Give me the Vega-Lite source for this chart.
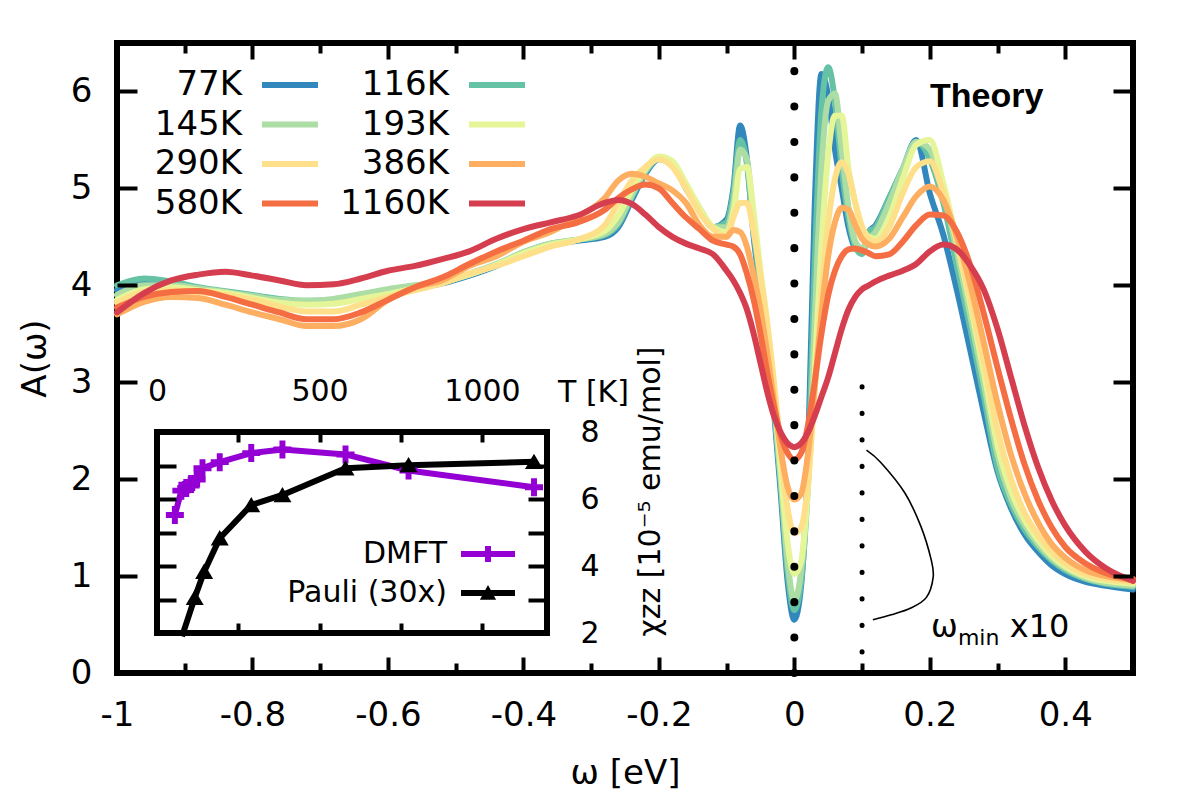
{
  "$schema": "https://vega.github.io/schema/vega-lite/v6.json",
  "width": 1016,
  "height": 630,
  "autosize": {"type": "none"},
  "padding": {"left": 117, "top": 43, "right": 67, "bottom": 127},
  "background": "white",
  "config": {
    "view": {"stroke": "black", "strokeWidth": 6},
    "axis": {"domain": false, "grid": false, "ticks": true, "tickColor": "black", "tickOpacity": 1, "tickWidth": 4, "gridColor": "black", "gridOpacity": 1, "gridWidth": 4, "labelFont": "DejaVu Sans", "labelFontSize": 34, "labelColor": "black", "titleFont": "DejaVu Sans", "titleFontSize": 34, "titleFontWeight": "normal", "titleColor": "black", "labelFlush": false, "labelOverlap": false},
    "legend": {"labelFont": "DejaVu Sans", "labelColor": "black", "padding": 0},
    "text": {"font": "DejaVu Sans", "color": "black"}
  },
  "datasets": {
    "inset": [
      {"T": 55, "chi": 5.52, "series": "DMFT"},
      {"T": 75, "chi": 6.25, "series": "DMFT"},
      {"T": 90, "chi": 6.33, "series": "DMFT"},
      {"T": 105, "chi": 6.45, "series": "DMFT"},
      {"T": 122, "chi": 6.58, "series": "DMFT"},
      {"T": 140, "chi": 6.92, "series": "DMFT"},
      {"T": 193, "chi": 7.1, "series": "DMFT"},
      {"T": 290, "chi": 7.37, "series": "DMFT"},
      {"T": 386, "chi": 7.48, "series": "DMFT"},
      {"T": 580, "chi": 7.33, "series": "DMFT"},
      {"T": 774, "chi": 6.85, "series": "DMFT"},
      {"T": 1160, "chi": 6.35, "series": "DMFT"},
      {"T": 77, "chi": 1.9, "series": "Pauli (30x)"},
      {"T": 116, "chi": 3.05, "series": "Pauli (30x)"},
      {"T": 145, "chi": 3.83, "series": "Pauli (30x)"},
      {"T": 193, "chi": 4.83, "series": "Pauli (30x)"},
      {"T": 290, "chi": 5.82, "series": "Pauli (30x)"},
      {"T": 386, "chi": 6.12, "series": "Pauli (30x)"},
      {"T": 580, "chi": 6.92, "series": "Pauli (30x)"},
      {"T": 774, "chi": 7.01, "series": "Pauli (30x)"},
      {"T": 1160, "chi": 7.11, "series": "Pauli (30x)"}
    ]
  },
  "resolve": {"scale": {"x": "independent", "y": "independent", "color": "independent", "shape": "independent"}},
  "layer": [
    {
      "data": {"values": [
        {"w": -1, "77K": 3.95, "116K": 4.0, "145K": 3.9, "193K": 3.85, "290K": 3.82, "386K": 3.7, "580K": 3.77, "1160K": 3.72},
        {"w": -0.96, "77K": 4.02, "116K": 4.07, "145K": 4.0, "193K": 3.96, "290K": 3.93, "386K": 3.83, "580K": 3.88, "1160K": 3.92},
        {"w": -0.92, "77K": 4.0, "116K": 4.04, "145K": 4.0, "193K": 3.98, "290K": 3.95, "386K": 3.88, "580K": 3.93, "1160K": 4.05},
        {"w": -0.88, "77K": 3.96, "116K": 3.98, "145K": 3.97, "193K": 3.95, "290K": 3.93, "386K": 3.87, "580K": 3.94, "1160K": 4.11},
        {"w": -0.84, "77K": 3.93, "116K": 3.94, "145K": 3.93, "193K": 3.92, "290K": 3.9, "386K": 3.8, "580K": 3.88, "1160K": 4.14},
        {"w": -0.8, "77K": 3.89, "116K": 3.9, "145K": 3.89, "193K": 3.87, "290K": 3.85, "386K": 3.72, "580K": 3.8, "1160K": 4.1},
        {"w": -0.76, "77K": 3.85, "116K": 3.86, "145K": 3.85, "193K": 3.82, "290K": 3.78, "386K": 3.65, "580K": 3.72, "1160K": 4.05},
        {"w": -0.72, "77K": 3.83, "116K": 3.84, "145K": 3.84, "193K": 3.8, "290K": 3.73, "386K": 3.58, "580K": 3.65, "1160K": 4.0},
        {"w": -0.68, "77K": 3.84, "116K": 3.85, "145K": 3.86, "193K": 3.81, "290K": 3.73, "386K": 3.58, "580K": 3.65, "1160K": 4.01},
        {"w": -0.64, "77K": 3.88, "116K": 3.89, "145K": 3.91, "193K": 3.86, "290K": 3.8, "386K": 3.65, "580K": 3.72, "1160K": 4.07},
        {"w": -0.6, "77K": 3.93, "116K": 3.94, "145K": 3.96, "193K": 3.91, "290K": 3.88, "386K": 3.85, "580K": 3.85, "1160K": 4.15},
        {"w": -0.56, "77K": 3.97, "116K": 3.98, "145K": 4.0, "193K": 3.97, "290K": 3.95, "386K": 3.98, "580K": 3.98, "1160K": 4.2},
        {"w": -0.52, "77K": 4.02, "116K": 4.03, "145K": 4.04, "193K": 4.03, "290K": 4.02, "386K": 4.05, "580K": 4.08, "1160K": 4.27},
        {"w": -0.48, "77K": 4.1, "116K": 4.11, "145K": 4.12, "193K": 4.11, "290K": 4.12, "386K": 4.2, "580K": 4.22, "1160K": 4.35},
        {"w": -0.44, "77K": 4.2, "116K": 4.21, "145K": 4.22, "193K": 4.21, "290K": 4.2, "386K": 4.3, "580K": 4.35, "1160K": 4.48},
        {"w": -0.4, "77K": 4.33, "116K": 4.34, "145K": 4.34, "193K": 4.33, "290K": 4.3, "386K": 4.45, "580K": 4.46, "1160K": 4.58},
        {"w": -0.36, "77K": 4.42, "116K": 4.43, "145K": 4.43, "193K": 4.42, "290K": 4.4, "386K": 4.55, "580K": 4.58, "1160K": 4.65},
        {"w": -0.32, "77K": 4.46, "116K": 4.47, "145K": 4.47, "193K": 4.47, "290K": 4.47, "386K": 4.7, "580K": 4.65, "1160K": 4.72},
        {"w": -0.28, "77K": 4.5, "116K": 4.52, "145K": 4.53, "193K": 4.56, "290K": 4.62, "386K": 4.9, "580K": 4.78, "1160K": 4.85},
        {"w": -0.26, "77K": 4.6, "116K": 4.63, "145K": 4.65, "193K": 4.72, "290K": 4.85, "386K": 5.08, "580K": 4.9, "1160K": 4.88},
        {"w": -0.24, "77K": 4.88, "116K": 4.91, "145K": 4.93, "193K": 4.98, "290K": 5.08, "386K": 5.15, "580K": 4.99, "1160K": 4.84},
        {"w": -0.22, "77K": 5.15, "116K": 5.17, "145K": 5.18, "193K": 5.2, "290K": 5.22, "386K": 5.12, "580K": 5.04, "1160K": 4.73},
        {"w": -0.2, "77K": 5.3, "116K": 5.31, "145K": 5.32, "193K": 5.33, "290K": 5.3, "386K": 5.05, "580K": 5.0, "1160K": 4.6},
        {"w": -0.18, "77K": 5.25, "116K": 5.26, "145K": 5.27, "193K": 5.28, "290K": 5.22, "386K": 4.98, "580K": 4.85, "1160K": 4.5},
        {"w": -0.16, "77K": 5.0, "116K": 5.02, "145K": 5.03, "193K": 5.05, "290K": 5.0, "386K": 4.85, "580K": 4.7, "1160K": 4.43},
        {"w": -0.14, "77K": 4.78, "116K": 4.79, "145K": 4.8, "193K": 4.8, "290K": 4.75, "386K": 4.62, "580K": 4.58, "1160K": 4.38},
        {"w": -0.12, "77K": 4.6, "116K": 4.6, "145K": 4.6, "193K": 4.6, "290K": 4.58, "386K": 4.5, "580K": 4.46, "1160K": 4.32},
        {"w": -0.1, "77K": 4.68, "116K": 4.65, "145K": 4.6, "193K": 4.55, "290K": 4.5, "386K": 4.5, "580K": 4.42, "1160K": 4.15},
        {"w": -0.09, "77K": 5.0, "116K": 4.95, "145K": 4.85, "193K": 4.75, "290K": 4.7, "386K": 4.57, "580K": 4.4, "1160K": 4.05},
        {"w": -0.08, "77K": 5.65, "116K": 5.5, "145K": 5.4, "193K": 5.2, "290K": 4.85, "386K": 4.55, "580K": 4.32, "1160K": 3.92},
        {"w": -0.07, "77K": 5.3, "116K": 5.25, "145K": 5.3, "193K": 5.22, "290K": 4.85, "386K": 4.4, "580K": 4.12, "1160K": 3.75},
        {"w": -0.06, "77K": 4.5, "116K": 4.55, "145K": 4.65, "193K": 4.75, "290K": 4.55, "386K": 4.1, "580K": 3.85, "1160K": 3.5},
        {"w": -0.05, "77K": 3.95, "116K": 4.0, "145K": 4.05, "193K": 4.15, "290K": 4.1, "386K": 3.75, "580K": 3.5, "1160K": 3.2},
        {"w": -0.04, "77K": 3.4, "116K": 3.45, "145K": 3.5, "193K": 3.6, "290K": 3.6, "386K": 3.3, "580K": 3.1, "1160K": 2.9},
        {"w": -0.03, "77K": 2.7, "116K": 2.75, "145K": 2.8, "193K": 2.9, "290K": 3.0, "386K": 2.8, "580K": 2.75, "1160K": 2.65},
        {"w": -0.02, "77K": 1.85, "116K": 1.95, "145K": 2.0, "193K": 2.1, "290K": 2.3, "386K": 2.3, "580K": 2.45, "1160K": 2.48},
        {"w": -0.01, "77K": 0.95, "116K": 1.05, "145K": 1.15, "193K": 1.35, "290K": 1.7, "386K": 1.92, "580K": 2.27, "1160K": 2.37},
        {"w": 0, "77K": 0.55, "116K": 0.65, "145K": 0.75, "193K": 1.02, "290K": 1.44, "386K": 1.79, "580K": 2.2, "1160K": 2.33},
        {"w": 0.01, "77K": 0.9, "116K": 0.95, "145K": 1.05, "193K": 1.15, "290K": 1.5, "386K": 1.85, "580K": 2.27, "1160K": 2.37},
        {"w": 0.02, "77K": 2.2, "116K": 2.0, "145K": 1.9, "193K": 1.9, "290K": 1.95, "386K": 2.25, "580K": 2.55, "1160K": 2.48},
        {"w": 0.03, "77K": 4.8, "116K": 4.2, "145K": 3.6, "193K": 3.1, "290K": 2.9, "386K": 2.95, "580K": 3.0, "1160K": 2.65},
        {"w": 0.04, "77K": 6.18, "116K": 5.8, "145K": 5.2, "193K": 4.4, "290K": 3.9, "386K": 3.7, "580K": 3.5, "1160K": 2.85},
        {"w": 0.05, "77K": 5.95, "116K": 6.25, "145K": 5.9, "193K": 5.35, "290K": 4.65, "386K": 4.3, "580K": 3.9, "1160K": 3.05},
        {"w": 0.06, "77K": 5.4, "116K": 5.9, "145K": 5.98, "193K": 5.75, "290K": 5.1, "386K": 4.65, "580K": 4.15, "1160K": 3.3},
        {"w": 0.07, "77K": 5.0, "116K": 5.2, "145K": 5.4, "193K": 5.75, "290K": 5.27, "386K": 4.8, "580K": 4.3, "1160K": 3.55},
        {"w": 0.08, "77K": 4.6, "116K": 4.7, "145K": 4.8, "193K": 5.2, "290K": 5.15, "386K": 4.78, "580K": 4.37, "1160K": 3.75},
        {"w": 0.09, "77K": 4.38, "116K": 4.4, "145K": 4.45, "193K": 4.85, "290K": 4.85, "386K": 4.62, "580K": 4.38, "1160K": 3.88},
        {"w": 0.1, "77K": 4.35, "116K": 4.32, "145K": 4.38, "193K": 4.6, "290K": 4.6, "386K": 4.48, "580K": 4.36, "1160K": 3.96},
        {"w": 0.11, "77K": 4.55, "116K": 4.55, "145K": 4.48, "193K": 4.5, "290K": 4.48, "386K": 4.42, "580K": 4.33, "1160K": 4.0},
        {"w": 0.12, "77K": 4.62, "116K": 4.6, "145K": 4.55, "193K": 4.48, "290K": 4.45, "386K": 4.4, "580K": 4.3, "1160K": 4.04},
        {"w": 0.14, "77K": 4.9, "116K": 4.9, "145K": 4.85, "193K": 4.7, "290K": 4.6, "386K": 4.48, "580K": 4.32, "1160K": 4.1},
        {"w": 0.16, "77K": 5.2, "116K": 5.2, "145K": 5.2, "193K": 5.1, "290K": 4.95, "386K": 4.7, "580K": 4.45, "1160K": 4.15},
        {"w": 0.18, "77K": 5.5, "116K": 5.48, "145K": 5.48, "193K": 5.45, "290K": 5.22, "386K": 4.92, "580K": 4.62, "1160K": 4.22},
        {"w": 0.2, "77K": 4.95, "116K": 5.3, "145K": 5.4, "193K": 5.5, "290K": 5.28, "386K": 5.02, "580K": 4.73, "1160K": 4.35},
        {"w": 0.22, "77K": 4.52, "116K": 4.85, "145K": 4.95, "193K": 5.05, "290K": 4.95, "386K": 4.88, "580K": 4.72, "1160K": 4.42},
        {"w": 0.24, "77K": 3.95, "116K": 4.2, "145K": 4.35, "193K": 4.45, "290K": 4.45, "386K": 4.5, "580K": 4.55, "1160K": 4.37},
        {"w": 0.26, "77K": 3.32, "116K": 3.55, "145K": 3.68, "193K": 3.8, "290K": 3.85, "386K": 4.0, "580K": 4.2, "1160K": 4.2},
        {"w": 0.28, "77K": 2.68, "116K": 2.85, "145K": 2.98, "193K": 3.1, "290K": 3.2, "386K": 3.4, "580K": 3.7, "1160K": 3.95},
        {"w": 0.3, "77K": 2.08, "116K": 2.12, "145K": 2.25, "193K": 2.35, "290K": 2.5, "386K": 2.78, "580K": 3.15, "1160K": 3.55},
        {"w": 0.32, "77K": 1.7, "116K": 1.74, "145K": 1.8, "193K": 1.88, "290K": 2.0, "386K": 2.25, "580K": 2.62, "1160K": 3.05},
        {"w": 0.34, "77K": 1.43, "116K": 1.48, "145K": 1.53, "193K": 1.58, "290K": 1.65, "386K": 1.85, "580K": 2.15, "1160K": 2.55},
        {"w": 0.36, "77K": 1.25, "116K": 1.3, "145K": 1.33, "193K": 1.37, "290K": 1.42, "386K": 1.55, "580K": 1.78, "1160K": 2.12},
        {"w": 0.38, "77K": 1.11, "116K": 1.16, "145K": 1.18, "193K": 1.21, "290K": 1.25, "386K": 1.33, "580K": 1.5, "1160K": 1.78},
        {"w": 0.4, "77K": 1.02, "116K": 1.06, "145K": 1.08, "193K": 1.1, "290K": 1.13, "386K": 1.19, "580K": 1.3, "1160K": 1.52},
        {"w": 0.43, "77K": 0.94, "116K": 0.97, "145K": 0.98, "193K": 1.0, "290K": 1.02, "386K": 1.06, "580K": 1.13, "1160K": 1.25},
        {"w": 0.46, "77K": 0.9, "116K": 0.92, "145K": 0.93, "193K": 0.95, "290K": 0.97, "386K": 1.0, "580K": 1.03, "1160K": 1.08},
        {"w": 0.5, "77K": 0.86, "116K": 0.89, "145K": 0.9, "193K": 0.92, "290K": 0.94, "386K": 0.96, "580K": 0.97, "1160K": 0.95}
      ]},
      "transform": [{"fold": ["77K", "116K", "145K", "193K", "290K", "386K", "580K", "1160K"], "as": ["T", "A"]}],
      "mark": {"type": "line", "strokeWidth": 6, "interpolate": "monotone", "strokeCap": "round", "strokeJoin": "round"},
      "encoding": {
        "x": {"field": "w", "type": "quantitative", "scale": {"domain": [-1, 0.5], "nice": false, "zero": false},
          "axis": {"orient": "bottom", "values": [-1, -0.8, -0.6, -0.4, -0.2, 0, 0.2, 0.4], "ticks": false, "grid": true, "gridDash": [16, 598], "labelPadding": 25, "labelExpr": "'' + datum.value", "title": "ω [eV]", "titleX": 508, "titleY": 100, "titleBaseline": "middle", "titleAlign": "center", "zindex": 1}},
        "y": {"field": "A", "type": "quantitative", "scale": {"domain": [0, 6.5], "nice": false, "zero": false},
          "axis": {"orient": "left", "values": [0, 1, 2, 3, 4, 5, 6], "ticks": false, "labelPadding": 25, "title": "A(ω)", "titleX": -82, "titleY": 315, "titleAngle": 270, "titleBaseline": "middle", "titleAlign": "center", "zindex": 1}},
        "color": {"field": "T", "type": "nominal",
          "scale": {"domain": ["77K", "116K", "145K", "193K", "290K", "386K", "580K", "1160K"], "range": ["#3288bd", "#66c2a5", "#abdda4", "#e6f598", "#fee08b", "#fdae61", "#f46d43", "#d53e4f"]},
          "legend": {"orient": "none", "legendX": 156, "legendY": 25, "direction": "horizontal", "columns": 2, "title": null, "symbolType": "M-2.8,0H2.8", "symbolStrokeWidth": 6, "symbolSize": 400, "labelAlign": "right", "labelOffset": -65, "labelFontSize": 34, "labelLimit": 300, "rowPadding": 5.5, "columnPadding": 10, "padding": 0}}
      }
    },
    {
      "data": {"values": [{}]},
      "mark": {"type": "rule", "strokeWidth": 8, "strokeDash": [0.1, 35.3], "strokeCap": "round", "color": "black"},
      "encoding": {
        "x": {"datum": 0, "type": "quantitative", "scale": {"domain": [-1, 0.5], "nice": false, "zero": false}, "axis": null},
        "y": {"datum": 0, "type": "quantitative", "scale": {"domain": [0, 6.5], "nice": false, "zero": false},
          "axis": {"orient": "right", "values": [1, 2, 3, 4, 5, 6], "ticks": false, "labels": false, "grid": true, "gridDash": [20, 976], "title": null, "zindex": 1}},
        "y2": {"datum": 6.5}
      }
    },
    {
      "data": {"values": [{}]},
      "mark": {"type": "rule", "strokeWidth": 5, "strokeDash": [0.1, 26.4], "strokeDashOffset": 5.4, "strokeCap": "round", "color": "black"},
      "encoding": {
        "x": {"datum": 0.1, "type": "quantitative", "scale": {"domain": [-1, 0.5], "nice": false, "zero": false},
          "axis": {"orient": "bottom", "values": [-0.9, -0.7, -0.5, -0.3, -0.1, 0.1, 0.3], "ticks": false, "labels": false, "grid": true, "gridDash": [10, 610], "title": null, "zindex": 1}},
        "y": {"datum": 0, "type": "quantitative", "scale": {"domain": [0, 6.5], "nice": false, "zero": false}, "axis": null},
        "y2": {"datum": 2.96}
      }
    },
    {
      "data": {"values": [{"w": 0.284, "A": 5.94, "label": "Theory"}]},
      "mark": {"type": "text", "font": "Liberation Sans", "fontWeight": "bold", "fontSize": 34, "align": "center", "baseline": "middle"},
      "encoding": {
        "x": {"field": "w", "type": "quantitative", "scale": {"domain": [-1, 0.5], "nice": false, "zero": false}, "axis": null},
        "y": {"field": "A", "type": "quantitative", "scale": {"domain": [0, 6.5], "nice": false, "zero": false}, "axis": null},
        "text": {"field": "label"}
      }
    },
    {
      "data": {"values": [
        {"o": 1, "w": 0.1065, "A": 2.3},
        {"o": 2, "w": 0.128, "A": 2.17},
        {"o": 3, "w": 0.163, "A": 1.86},
        {"o": 4, "w": 0.187, "A": 1.51},
        {"o": 5, "w": 0.202, "A": 1.17},
        {"o": 6, "w": 0.205, "A": 0.99},
        {"o": 7, "w": 0.195, "A": 0.78},
        {"o": 8, "w": 0.172, "A": 0.67},
        {"o": 9, "w": 0.143, "A": 0.6},
        {"o": 10, "w": 0.116, "A": 0.55}
      ]},
      "mark": {"type": "line", "strokeWidth": 1.6, "color": "black", "interpolate": "cardinal"},
      "encoding": {
        "x": {"field": "w", "type": "quantitative", "scale": {"domain": [-1, 0.5], "nice": false, "zero": false}, "axis": null},
        "y": {"field": "A", "type": "quantitative", "scale": {"domain": [0, 6.5], "nice": false, "zero": false}, "axis": null},
        "order": {"field": "o", "type": "quantitative"}
      }
    },
    {
      "data": {"values": [{"w": 0.2018, "A": 0.37, "label": "ω"}, {"w": 0.318, "A": 0.37, "label": "x10"}]},
      "mark": {"type": "text", "fontSize": 32, "align": "left", "baseline": "alphabetic"},
      "encoding": {
        "x": {"field": "w", "type": "quantitative", "scale": {"domain": [-1, 0.5], "nice": false, "zero": false}, "axis": null},
        "y": {"field": "A", "type": "quantitative", "scale": {"domain": [0, 6.5], "nice": false, "zero": false}, "axis": null},
        "text": {"field": "label"}
      }
    },
    {
      "data": {"values": [{"w": 0.2415, "A": 0.29, "label": "min"}]},
      "mark": {"type": "text", "fontSize": 22, "align": "left", "baseline": "alphabetic"},
      "encoding": {
        "x": {"field": "w", "type": "quantitative", "scale": {"domain": [-1, 0.5], "nice": false, "zero": false}, "axis": null},
        "y": {"field": "A", "type": "quantitative", "scale": {"domain": [0, 6.5], "nice": false, "zero": false}, "axis": null},
        "text": {"field": "label"}
      }
    },
    {
      "data": {"values": [{}]},
      "mark": {"type": "rect", "fill": "white", "strokeWidth": 0},
      "encoding": {
        "x": {"datum": 0, "type": "quantitative", "scale": {"domain": [0, 1200], "range": [40, 430], "nice": false, "zero": false}, "axis": null},
        "x2": {"datum": 1200},
        "y": {"datum": 2, "type": "quantitative", "scale": {"domain": [2, 8], "range": [590, 389], "nice": false, "zero": false}, "axis": null},
        "y2": {"datum": 8}
      }
    },
    {
      "data": {"name": "inset"},
      "mark": {"type": "line", "strokeWidth": 6, "strokeJoin": "round"},
      "encoding": {
        "x": {"field": "T", "type": "quantitative", "scale": {"domain": [0, 1200], "range": [40, 430], "nice": false, "zero": false},
          "axis": {"orient": "bottom", "offset": -50, "values": [250, 500, 750, 1000], "ticks": true, "tickColor": "black", "tickSize": 10, "tickWidth": 4, "labels": false, "title": null, "zindex": 2}},
        "y": {"field": "chi", "type": "quantitative", "scale": {"domain": [2, 8], "range": [590, 389], "nice": false, "zero": false},
          "axis": {"orient": "left", "offset": -59, "values": [3, 4, 5, 6, 7], "ticks": true, "tickColor": "black", "tickSize": 19, "tickWidth": 4, "labels": false, "title": null, "zindex": 2}},
        "color": {"field": "series", "type": "nominal", "scale": {"domain": ["DMFT", "Pauli (30x)"], "range": ["#9400d3", "#000000"]}, "legend": null}
      }
    },
    {
      "data": {"name": "inset"},
      "transform": [{"filter": "datum.chi >= 2"}],
      "mark": {"type": "point", "filled": true, "opacity": 1, "size": 324},
      "encoding": {
        "x": {"field": "T", "type": "quantitative", "scale": {"domain": [0, 1200], "range": [40, 430], "nice": false, "zero": false}, "axis": null},
        "y": {"field": "chi", "type": "quantitative", "scale": {"domain": [2, 8], "range": [590, 389], "nice": false, "zero": false}, "axis": null},
        "color": {"field": "series", "type": "nominal", "scale": {"domain": ["DMFT", "Pauli (30x)"], "range": ["#9400d3", "#000000"]}, "legend": null},
        "shape": {"field": "series", "type": "nominal", "scale": {"domain": ["DMFT", "Pauli (30x)"], "range": ["M-0.33,-1H0.33V1H-0.33Z M-1,-0.33H1V0.33H-1Z", "M-1,0.8L0,-0.9L1,0.8Z"]}, "legend": null}
      }
    },
    {
      "data": {"name": "inset"},
      "mark": {"type": "point", "filled": true, "opacity": 0, "size": 324},
      "encoding": {
        "x": {"field": "T", "type": "quantitative", "scale": {"domain": [0, 1200], "range": [40, 430], "nice": false, "zero": false}, "axis": null},
        "y": {"field": "chi", "type": "quantitative", "scale": {"domain": [2, 8], "range": [590, 389], "nice": false, "zero": false}, "axis": null},
        "color": {"field": "series", "type": "nominal", "scale": {"domain": ["DMFT", "Pauli (30x)"], "range": ["#9400d3", "#000000"]},
          "legend": {"orient": "none", "legendX": 356, "legendY": 496, "title": null, "labelAlign": "right", "labelOffset": -56, "labelFontSize": 30, "labelLimit": 300, "rowPadding": 9, "symbolSize": 324, "symbolOpacity": 1, "padding": 0}},
        "shape": {"field": "series", "type": "nominal", "scale": {"domain": ["DMFT", "Pauli (30x)"], "range": ["M-3,-0.33H3V0.33H-3Z M-0.33,-0.9H0.33V0.9H-0.33Z", "M-3,-0.33H3V0.33H-3Z M-0.9,0.75L0,-0.9L0.9,0.75Z"]},
          "legend": {"orient": "none", "legendX": 356, "legendY": 496, "title": null, "labelAlign": "right", "labelOffset": -56, "labelFontSize": 30, "labelLimit": 300, "rowPadding": 9, "symbolSize": 324, "symbolOpacity": 1, "padding": 0}}
      }
    },
    {
      "data": {"values": [{}]},
      "mark": {"type": "rect", "fillOpacity": 0, "fill": "white", "stroke": "black", "strokeWidth": 6},
      "encoding": {
        "x": {"datum": 0, "type": "quantitative", "scale": {"domain": [0, 1200], "range": [40, 430], "nice": false, "zero": false},
          "axis": {"orient": "top", "offset": -399, "values": [0, 250, 500, 750, 1000], "labelExpr": "datum.value % 500 === 0 ? '' + datum.value : ''", "ticks": true, "tickColor": "black", "tickSize": 10, "tickWidth": 4, "labelPadding": 26, "labelFontSize": 30, "title": "T [K]", "titleFontSize": 30, "titleX": 476, "titleY": -50, "titleAngle": 0, "titleBaseline": "middle", "titleAlign": "center", "zindex": 2}},
        "x2": {"datum": 1200},
        "y": {"datum": 2, "type": "quantitative", "scale": {"domain": [2, 8], "range": [590, 389], "nice": false, "zero": false},
          "axis": {"orient": "right", "offset": -605, "values": [2, 3, 4, 5, 6, 7, 8], "labelExpr": "datum.value % 2 === 0 ? '' + datum.value : ''", "ticks": true, "tickColor": "black", "tickSize": 19, "tickWidth": 4, "labelPadding": 33, "labelFontSize": 30, "title": "χzz [10⁻⁵ emu/mol]", "titleFontSize": 30, "titleAngle": 270, "titleX": 122, "titleY": 448, "titleBaseline": "middle", "titleAlign": "center", "zindex": 2}},
        "y2": {"datum": 8}
      }
    }
  ]
}
